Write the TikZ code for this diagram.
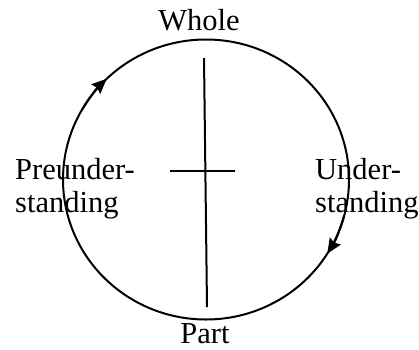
\documentclass[tikz,border=0pt]{standalone}
\usepackage{fontspec}
\setmainfont{Liberation Serif}
\usetikzlibrary{arrows.meta}
\begin{document}
\begin{tikzpicture}[x=1pt,y=1pt,
  lbl/.style={inner sep=0pt, font=\fontsize{30.5}{33}\selectfont},
  ring/.style={line width=2pt},
  bar/.style={line width=2pt},
  tip/.style={line width=2pt, -{Stealth[length=15pt,width=13pt,inset=2pt]}}]
\useasboundingbox (0,0) rectangle (419,349);
\coordinate (c) at (206,169.5);
\draw[ring] (c) ellipse [x radius=143, y radius=140];
\coordinate (vt) at (204,291);
\coordinate (vb) at (207,42);
\coordinate (hl) at (170,178);
\coordinate (hr) at (235,178);
\draw[bar] (vt) -- (vb);
\draw[bar, line width=2.6pt] (hl) -- (hr);
% arrows on the circle (clockwise)
\path (c) ++(150:143 and 140) coordinate (la);
\draw[tip] (la) arc[start angle=150, end angle=134, x radius=143, y radius=140];
\path (c) ++(-15:143 and 140) coordinate (ra);
\draw[tip] (ra) arc[start angle=-15, end angle=-32, x radius=143, y radius=140];
\node[lbl, anchor=base] (whole) at (199,318.3) {Whole};
\node[lbl, anchor=base] (part) at (205,6) {Part};
\node[lbl, anchor=base west, align=left] (pre) at (15,137) {Preunder-\\standing};
\node[lbl, anchor=base west, align=left] (und) at (315,137) {Under-\\standing};
\end{tikzpicture}
\end{document}
